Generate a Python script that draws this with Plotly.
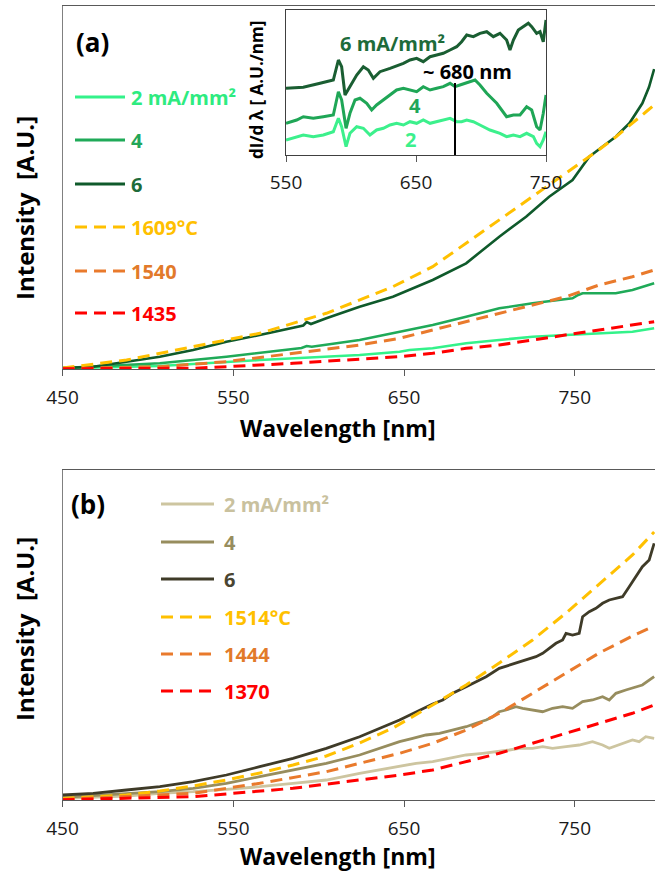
import plotly.graph_objects as go

W, H = 655, 874
FONT = "Open Sans"


def fx(x):
    return x / W


def fy(y):
    return 1 - y / H


# ---------------- panel (a): emission spectra at three current densities ----------------
a2_nm = [450, 507, 565.5, 624, 647.4, 653.2, 666.8, 686.4, 705.8, 725.3, 744.9, 764.3, 783.8, 796.5]
a2_int = [0.7, 3, 9, 14, 17.3, 19, 20.7, 25.7, 29, 32.3, 34, 35.7, 37.3, 40.7]

a4_nm = [450, 507, 546, 585, 590, 593, 596, 624, 647.4, 666.8, 686.4, 705.8, 725.3, 748.7, 752,
         754.6, 764.3, 774, 783.8, 796.5]
a4_int = [1, 5.7, 12.3, 19.5, 21, 23, 22.3, 29, 37.3, 44, 52.3, 60.7, 65.7, 70.7, 74,
          75.7, 75.7, 75.7, 79, 85.7]

a6_nm = [450, 468, 487.5, 507, 526.5, 546, 565.5, 585, 591, 593, 595.5, 604.5, 624, 643.5, 653.2,
         666.8, 686.4, 705.8, 721.5, 735, 748.7, 758.5, 766, 774, 782, 789.6, 793.5, 796.5]
a6_int = [1, 2.3, 7.3, 12.3, 19, 27.3, 34, 41.5, 43.5, 47, 45, 50.7, 62.3, 72.3, 79,
          89, 105.7, 132.3, 152.3, 172.3, 189, 212.3, 222, 232.3, 245.7, 265.7, 282, 300]

# grey-body fits for panel (a)
t1609_nm = [450, 487.5, 526.5, 565.5, 604.5, 643.5, 666.8, 686.4, 705.8, 725.3, 748.7, 762.4,
            774, 782, 791.6, 796.5]
t1609_int = [1, 9, 22.3, 35.7, 55.7, 82.3, 102.3, 125.7, 149, 172.3, 200, 217,
             232, 243, 257, 264]

t1540_nm = [450, 507, 546, 585, 624, 647.4, 666.8, 686.4, 705.8, 725.3, 744.9, 764.3, 783.8, 796.5]
t1540_int = [0.5, 2.3, 7.3, 15.7, 24, 30.7, 39, 47.3, 55.7, 64, 72.3, 84, 92.3, 99]

t1435_nm = [450, 526.5, 585, 647.4, 666.8, 686.4, 705.8, 725.3, 744.9, 764.3, 783.8, 796.5]
t1435_int = [0.3, 0.7, 5.7, 12.3, 15.7, 20.7, 24, 29, 34, 39, 44, 47.3]

# ---------------- inset: derivative dI/dλ (curves stacked with offsets) ----------------
d6_nm = [550, 563.3, 576.2, 586.4, 590.3, 592.8, 595.4, 599.2, 604.4, 609.5, 613.3, 617.2, 622.3,
         630, 640.3, 645.4, 650.5, 655.6, 660.8, 665.9, 671, 676.2, 681.3, 685.1, 689, 694.1,
         699.2, 704.4, 709.5, 714.6, 719.7, 722.3, 724.9, 728.7, 732.6, 736.4, 739, 742.8,
         745.4, 747.9, 750]
d6_val = [66.7, 67.7, 71.7, 75, 95, 88.3, 60, 68.3, 80, 88.3, 85, 76.7, 83.3,
          86.7, 91.7, 95, 96.7, 93.3, 98.3, 100, 101.7, 105, 108.3, 113.3, 120, 118.3,
          121.7, 123.3, 118.3, 121.7, 115, 105, 115, 125, 128.3, 131.7, 128.3, 121.7,
          123.3, 113.3, 135]

d4_nm = [550, 558.2, 563.3, 571, 578.7, 586.4, 590.3, 592.8, 596.2, 599.2, 603.1, 606.9, 612.1,
         615.9, 619.7, 624.9, 630, 635.1, 640.3, 645.4, 650.5, 655.6, 660.8, 665.9, 671, 676.2,
         680, 683.8, 687.7, 691.5, 695.4, 699.2, 704.4, 712.1, 719.7, 724.9, 730, 735.1, 739,
         742.8, 745.4, 747.9, 750]
d4_val = [31.7, 35, 38.3, 36.7, 38.3, 40, 63.3, 55, 26.7, 41.7, 55, 56.7, 51.7,
          45, 50, 55, 60, 65, 66.7, 65, 63.3, 68.3, 65, 66.7, 68.3, 71.7,
          68.3, 70, 71.7, 73.3, 75, 70, 61.7, 51.7, 38.3, 40, 40, 48.3, 45,
          28.3, 25, 41.7, 60]

d2_nm = [550, 558.2, 563.3, 571, 578.7, 586.4, 590.3, 592.8, 596.2, 599.2, 604.4, 609.5, 614.6,
         619.7, 624.9, 630, 635.1, 640.3, 645.4, 650.5, 655.6, 660.8, 665.9, 671, 676.2, 681.3,
         685.1, 689, 694.1, 699.2, 706.9, 714.6, 719.7, 724.9, 730, 735.1, 740.3, 742.8, 745.4,
         747.9, 750]
d2_val = [15, 18.3, 20, 18.3, 20, 23.3, 36.7, 28.3, 8.3, 21.7, 28.3, 26.7, 20,
          25, 26.7, 30, 31.7, 30, 33.3, 31.7, 35, 31.7, 33.3, 35, 36.7, 33.3,
          33.3, 35, 33.3, 30, 25, 21.7, 18.3, 20, 18.3, 21.7, 18.3, 11.7, 8.3,
          15, 23.3]

PEAK_NM = 680
peak_marker_top = 72

# ---------------- panel (b): emission spectra at three current densities ----------------
b2_nm = [450, 487.5, 507, 526.5, 546, 565.5, 585, 604.5, 624, 647.4, 657.1, 666.8, 676.6, 686.4,
         696.1, 705.8, 711.7, 717.5, 725.3, 731.2, 737, 744.9, 752.6, 760.4, 766.3, 770.2, 776,
         783.8, 787.7, 791.6, 796.5]
b2_int = [1.7, 4, 6.7, 8.3, 10.7, 13.3, 16.7, 20, 26.7, 33.3, 36.7, 38.3, 41.7, 45,
          46.7, 48.3, 50, 51.7, 51.7, 53.3, 51.7, 53.3, 55, 58.3, 55, 51.7, 55,
          60, 58.3, 63.3, 61.7]

b4_nm = [450, 487.5, 507, 526.5, 546, 565.5, 585, 604.5, 624, 647.4, 655.1, 662.9, 670.8, 678.5,
         686.4, 692.2, 698.1, 702, 705.8, 709.8, 715.6, 719.5, 725.3, 731.2, 737, 742.9, 748.7,
         754.6, 760.4, 766.3, 770.2, 774.1, 779.9, 783.8, 789.6, 796.5]
b4_int = [2.7, 6.7, 8.3, 11.7, 16.7, 23.3, 30, 36.7, 45, 58.3, 61.7, 65, 66.7, 70,
          73.3, 76.7, 80, 83.3, 88.3, 90, 93.3, 91.7, 90, 88.3, 91.7, 93.3, 91.7,
          98.3, 100, 103.3, 100, 106.7, 110, 111.7, 115, 123.3]

b6_nm = [450, 468, 487.5, 507, 526.5, 546, 565.5, 585, 604.5, 624, 647.4, 653.2, 659.1, 666.8,
         672.7, 678.5, 686.4, 692.2, 698.1, 705.8, 711.7, 717.5, 723.4, 727.3, 731.2, 735.1, 739,
         742.9, 744.9, 748.7, 752.6, 754.6, 758.5, 762.4, 766.3, 770.2, 774.1, 778, 781.9, 785.8,
         789.6, 793.6, 796.5]
b6_int = [5, 6.7, 10, 13.3, 18.3, 25, 33.3, 41.7, 51.7, 63.3, 80, 85, 90, 96,
          100, 106.7, 113.3, 118.3, 123.3, 131.7, 135, 138.3, 141.7, 143.3, 146.7, 151.7, 156.7,
          160, 166.7, 165, 166.7, 183.3, 188.3, 191.7, 196.7, 200, 201.7, 203.3, 213.3, 223.3,
          233.3, 240, 256.7]

# grey-body fits for panel (b)
t1514_nm = [450, 487.5, 507, 526.5, 546, 565.5, 585, 604.5, 624, 643.5, 666.8, 686.4, 705.8,
            725.3, 744.9, 764.3, 783.8, 796.5]
t1514_int = [1.5, 5, 9, 14, 20, 27, 35, 44, 57, 72, 95, 115, 137, 160, 187, 216, 245, 268]

t1444_nm = [450, 526.5, 565.5, 604.5, 647.4, 666.8, 686.4, 705.8, 725.3, 744.9, 764.3, 783.8, 796.5]
t1444_int = [0.5, 6.7, 16.7, 28.3, 46.7, 56.7, 70, 86.7, 106.7, 126.7, 147, 164, 174]

t1370_nm = [450, 526.5, 585, 647.4, 666.8, 686.4, 705.8, 725.3, 744.9, 764.3, 783.8, 796.5]
t1370_int = [0.3, 3.3, 11.7, 25, 30, 38.3, 46.7, 56.7, 66.7, 76.7, 86.7, 95]

# legend labels
labels_a = ["2 mA/mm²", "4", "6", "1609°C", "1540", "1435"]
labels_b = ["2 mA/mm²", "4", "6", "1514°C", "1444", "1370"]
ticks_main = [450, 550, 650, 750]
ticks_inset = [550, 650, 750]

# colours
G2, G4, G6 = "#33F28A", "#1FAA58", "#0F5A2B"
G2T, G4T, G6T = "#2EEB80", "#22A658", "#1E6B3A"
K2, K4, K6 = "#CDC5A0", "#978D5E", "#3F3B28"
K2T, K4T, K6T = "#C9C19E", "#978D5E", "#4A4531"
YEL, ORA, RED = "#FFC000", "#E97A2C", "#FF0000"
ORAT = "#E27A2A"

DASH = "12px,7px"

fig = go.Figure()


def solid(x, y, color, xa, ya, width=2.6):
    fig.add_trace(go.Scatter(x=x, y=y, mode="lines", xaxis=xa, yaxis=ya,
                             line=dict(color=color, width=width), showlegend=False,
                             hoverinfo="skip"))


def dashed(x, y, color, xa, ya, width=3):
    fig.add_trace(go.Scatter(x=x, y=y, mode="lines", xaxis=xa, yaxis=ya,
                             line=dict(color=color, width=width, dash=DASH),
                             showlegend=False, hoverinfo="skip"))


# panel (a)
solid(a2_nm, a2_int, G2, "x", "y")
solid(a4_nm, a4_int, G4, "x", "y")
solid(a6_nm, a6_int, G6, "x", "y")
dashed(t1609_nm, t1609_int, YEL, "x", "y")
dashed(t1540_nm, t1540_int, ORA, "x", "y")
dashed(t1435_nm, t1435_int, RED, "x", "y")

# panel (b)
solid(b2_nm, b2_int, K2, "x2", "y2", 2.8)
solid(b4_nm, b4_int, K4, "x2", "y2", 2.8)
solid(b6_nm, b6_int, K6, "x2", "y2", 2.8)
dashed(t1514_nm, t1514_int, YEL, "x2", "y2")
dashed(t1444_nm, t1444_int, ORA, "x2", "y2")
dashed(t1370_nm, t1370_int, RED, "x2", "y2")

# inset
solid(d6_nm, d6_val, "#1A5E32", "x3", "y3", 3)
solid(d4_nm, d4_val, "#1FA656", "x3", "y3", 3)
solid(d2_nm, d2_val, "#3CF08C", "x3", "y3", 3)
solid([PEAK_NM, PEAK_NM], [0, peak_marker_top], "#000000", "x3", "y3", 2)

# hand-placed legends: sample line + coloured label
shapes = []
annotations = []


def legend_block(x0, x1, xt, ys, labels, colors, text_colors, dashes):
    for y, lab, c, tc, d in zip(ys, labels, colors, text_colors, dashes):
        shapes.append(dict(type="line", xref="paper", yref="paper",
                           x0=fx(x0), x1=fx(x1), y0=fy(y), y1=fy(y),
                           line=dict(color=c, width=3, dash=DASH if d else "solid")))
        annotations.append(dict(xref="paper", yref="paper", x=fx(xt), y=fy(y),
                                xanchor="left", yanchor="middle", showarrow=False,
                                text=f"<b>{lab}</b>",
                                font=dict(family=FONT, size=20, color=tc)))


legend_block(75, 125, 129, [97, 140, 184, 227, 271, 313], labels_a,
             [G2, G4, G6, YEL, ORA, RED], [G2T, G4T, G6T, YEL, ORAT, RED],
             [False, False, False, True, True, True])
legend_block(161, 214, 222, [504, 542, 579, 617, 654, 691], labels_b,
             [K2, K4, K6, YEL, ORA, RED], [K2T, K4T, K6T, YEL, ORAT, RED],
             [False, False, False, True, True, True])


def note(x, y, text, size, color="#000000", angle=0, anchor="center"):
    annotations.append(dict(xref="paper", yref="paper", x=fx(x), y=fy(y), xanchor=anchor,
                            yanchor="middle", showarrow=False, textangle=angle,
                            text=text, font=dict(family=FONT, size=size, color=color)))


note(92, 42, "<b>(a)</b>", 26)
note(88, 504, "<b>(b)</b>", 26)
note(24, 208, "<b>Intensity\u00a0 [A.U.]</b>", 24, angle=-90)
note(24, 629, "<b>Intensity\u00a0 [A.U.]</b>", 24, angle=-90)
note(338, 428, "<b>Wavelength [nm]</b>", 23)
note(338, 856, "<b>Wavelength [nm]</b>", 23)
note(256, 90, "<b>dI/d λ [ A.U./nm]</b>", 17, angle=-90)
note(392, 43, "<b>6 mA/mm²</b>", 20, color="#1E6B3A")
note(467, 72, f"<b>~ {PEAK_NM} nm</b>", 20)
note(415, 105, "<b>4</b>", 20, color="#22A658")
note(410, 139, "<b>2</b>", 20, color="#3CF08C")

main_x = dict(range=[450, 797], tickvals=ticks_main, ticks="outside", ticklen=6,
              tickcolor="#595959", showline=True, linecolor="#595959", linewidth=1.3,
              mirror=True, showgrid=False, zeroline=False, ticklabelstandoff=5,
              automargin=False,
              tickfont=dict(family=FONT, size=19, color="#1a1a1a"),
              domain=[62.5 / W, 1])
main_y = dict(showticklabels=False, ticks="", showline=True, linecolor="#808080",
              linewidth=1.3, showgrid=False, zeroline=False, automargin=False)

fig.update_layout(
    width=W, height=H, autosize=False,
    margin=dict(l=0, r=0, t=0, b=0, autoexpand=False),
    paper_bgcolor="white", plot_bgcolor="white",
    font=dict(family=FONT),
    xaxis=dict(main_x, anchor="y"),
    yaxis=dict(main_y, range=[0, 363], domain=[fy(369), fy(6)], anchor="x"),
    xaxis2=dict(main_x, anchor="y2"),
    yaxis2=dict(main_y, range=[0, 330], domain=[fy(800), fy(470)], anchor="x2"),
    xaxis3=dict(range=[550, 750], tickvals=ticks_inset, ticks="outside", ticklen=6,
                tickcolor="#595959", showline=True, linecolor="#404040", linewidth=1.3,
                mirror=True, showgrid=False, zeroline=False, ticklabelstandoff=4,
                automargin=False,
                tickfont=dict(family=FONT, size=19, color="#1a1a1a"),
                domain=[286 / W, 546 / W], anchor="y3"),
    yaxis3=dict(range=[0, 145], showticklabels=False, ticks="", showline=True,
                linecolor="#404040", linewidth=1.3, mirror=True, showgrid=False,
                zeroline=False, automargin=False, domain=[fy(155), fy(10)], anchor="x3"),
    shapes=shapes,
    annotations=annotations,
    showlegend=False,
)

fig.write_html("out.html")
